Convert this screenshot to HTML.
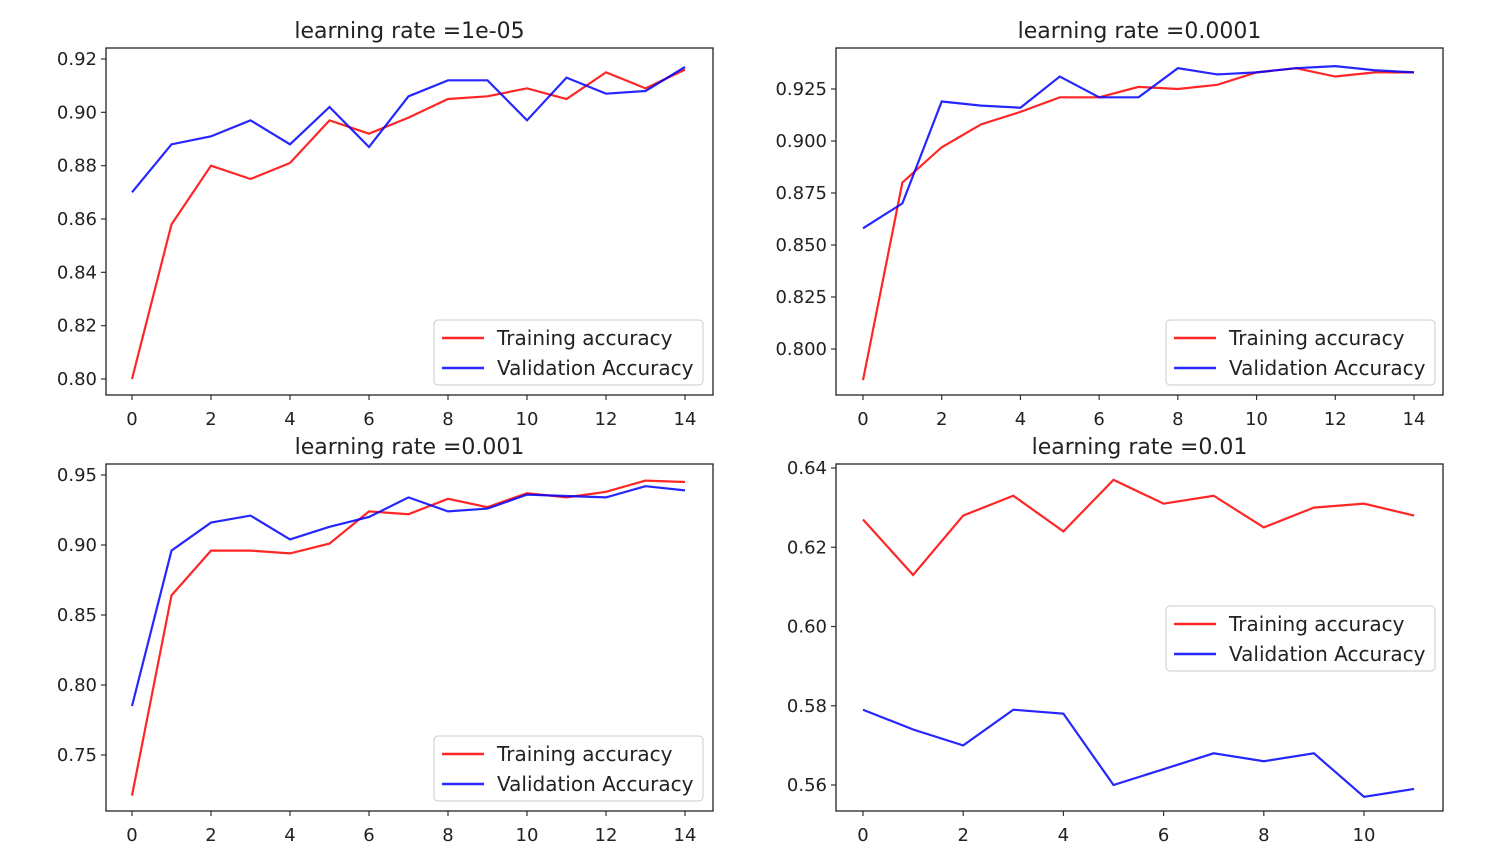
<!DOCTYPE html>
<html><head><meta charset="utf-8"><style>
html,body{margin:0;padding:0;background:#fff;}
svg{display:block;font-family:"DejaVu Sans","Liberation Sans",sans-serif;}
</style></head><body>
<svg id="chart" width="1504" height="868"></svg>
<script>
const epochs15 = [0,1,2,3,4,5,6,7,8,9,10,11,12,13,14];
const epochs12 = [0,1,2,3,4,5,6,7,8,9,10,11];
const titles = ["learning rate =1e-05","learning rate =0.0001","learning rate =0.001","learning rate =0.01"];
const train1 = [0.800,0.858,0.880,0.875,0.881,0.897,0.892,0.898,0.905,0.906,0.909,0.905,0.915,0.909,0.916];
const val1   = [0.870,0.888,0.891,0.897,0.888,0.902,0.887,0.906,0.912,0.912,0.897,0.913,0.907,0.908,0.917];
const train2 = [0.785,0.880,0.897,0.908,0.914,0.921,0.921,0.926,0.925,0.927,0.933,0.935,0.931,0.933,0.933];
const val2   = [0.858,0.870,0.919,0.917,0.916,0.931,0.921,0.921,0.935,0.932,0.933,0.935,0.936,0.934,0.933];
const train3 = [0.721,0.864,0.896,0.896,0.894,0.901,0.924,0.922,0.933,0.927,0.937,0.934,0.938,0.946,0.945];
const val3   = [0.785,0.896,0.916,0.921,0.904,0.913,0.920,0.934,0.924,0.926,0.936,0.935,0.934,0.942,0.939];
const train4 = [0.627,0.613,0.628,0.633,0.624,0.637,0.631,0.633,0.625,0.630,0.631,0.628];
const val4   = [0.579,0.574,0.570,0.579,0.578,0.560,0.564,0.568,0.566,0.568,0.557,0.559];
const xticks15 = [0,2,4,6,8,10,12,14];
const xticks12 = [0,2,4,6,8,10];
const yticks1 = [0.80,0.82,0.84,0.86,0.88,0.90,0.92];
const yticks2 = [0.800,0.825,0.850,0.875,0.900,0.925];
const yticks3 = [0.75,0.80,0.85,0.90,0.95];
const yticks4 = [0.56,0.58,0.60,0.62,0.64];

const NS="http://www.w3.org/2000/svg";
const svg=document.getElementById('chart');
function mk(tag,attrs,parent){const e=document.createElementNS(NS,tag);for(const k in attrs)e.setAttribute(k,attrs[k]);(parent||svg).appendChild(e);return e;}

const panels=[
 {box:[106,48,713,395],x0:0,x0p:132,x1:14,x1p:685,ya:0.92,yap:59,yb:0.80,ybp:379,xs:epochs15,tr:train1,va:val1,xt:xticks15,yt:yticks1,dec:2,leg:[434,320]},
 {box:[836,48,1443,395],x0:0,x0p:863,x1:14,x1p:1414,ya:0.925,yap:89,yb:0.800,ybp:349,xs:epochs15,tr:train2,va:val2,xt:xticks15,yt:yticks2,dec:3,leg:[1166,320]},
 {box:[106,464,713,811],x0:0,x0p:132,x1:14,x1p:685,ya:0.95,yap:475,yb:0.75,ybp:755,xs:epochs15,tr:train3,va:val3,xt:xticks15,yt:yticks3,dec:2,leg:[434,736]},
 {box:[836,464,1443,811],x0:0,x0p:863,x1:10,x1p:1364,ya:0.64,yap:468,yb:0.56,ybp:785,xs:epochs12,tr:train4,va:val4,xt:xticks12,yt:yticks4,dec:2,leg:[1166,606]}
];
panels.forEach((p,i)=>{
 const g=mk('g',{});
 
 
 const X=v=>p.x0p+(v-p.x0)*(p.x1p-p.x0p)/(p.x1-p.x0);
 const Y=v=>p.yap+(v-p.ya)*(p.ybp-p.yap)/(p.yb-p.ya);
 const [l,t,r,b]=p.box;
 const tt=mk('text',{x:(l+r)/2,y:t-10,'text-anchor':'middle','font-size':22,fill:'#222'},g);tt.textContent=titles[i];
 
 
 p.xt.forEach(v=>{mk('line',{x1:X(v),x2:X(v),y1:b,y2:b+5,stroke:'#333','stroke-width':1.2},g);
  const tx=mk('text',{x:X(v),y:b+30,'text-anchor':'middle','font-size':18,fill:'#222'},g);tx.textContent=v;
  
  });
 p.yt.forEach(v=>{mk('line',{x1:l-5,x2:l,y1:Y(v),y2:Y(v),stroke:'#333','stroke-width':1.2},g);
  const ty=mk('text',{x:l-9,y:Y(v)+6,'text-anchor':'end','font-size':18,fill:'#222'},g);ty.textContent=v.toFixed(p.dec);
  
  });
 const line=(arr,col,name)=>{const pl=mk('polyline',{points:p.xs.map((x,k)=>X(x)+','+Y(arr[k])).join(' '),fill:'none',stroke:col,'stroke-width':2.2,'stroke-opacity':0.85},g);
  
  };
 line(p.tr,'#ff0000','training-accuracy-line');
 line(p.va,'#0000ff','validation-accuracy-line');
 const fr=mk('rect',{x:l,y:t,width:r-l,height:b-t,fill:'none',stroke:'#222','stroke-width':1.3},g);
 
 
 const [lx,ly]=p.leg;
 const lg=mk('g',{},g);
 
 
 mk('rect',{x:lx,y:ly,width:269,height:65,rx:4,fill:'#fff','fill-opacity':0.8,stroke:'#ccc'},lg);
 [['Training accuracy','#ff0000',ly+18],['Validation Accuracy','#0000ff',ly+48]].forEach(([txt,c,yy])=>{
  mk('line',{x1:lx+8,x2:lx+50,y1:yy,y2:yy,stroke:c,'stroke-width':2.5,'stroke-opacity':0.85},lg);
  const lt=mk('text',{x:lx+63,y:yy+7,'font-size':20,fill:'#222'},lg);lt.textContent=txt;
  
  
 });
});
</script>
</body></html>
